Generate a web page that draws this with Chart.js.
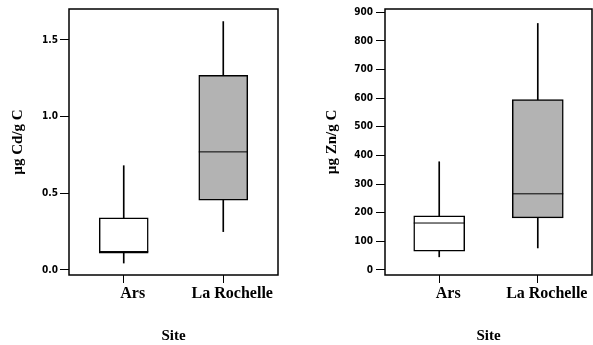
<!DOCTYPE html>
<html>
<head>
<meta charset="utf-8">
<script src="https://cdn.jsdelivr.net/npm/chart.js@4.4.0/dist/chart.umd.min.js"></script>
<style>
	html, body { margin: 0; padding: 0; background: #fff; }
	#wrap { position: relative; width: 593px; height: 345px; overflow: hidden; }
	canvas { position: absolute; top: 0; }
	#cd-chart { left: 0; }
	#zn-chart { left: 300px; }
</style>
</head>
<body>
<div id="wrap">
	<canvas id="cd-chart" width="300" height="345"></canvas>
	<canvas id="zn-chart" width="293" height="345"></canvas>
</div>
<script>
const sites = ["Ars", "La Rochelle"];

// Cd, µg/g C
const cdLow = [0.045, 0.25];
const cdQ1 = [0.11, 0.455];
const cdMedian = [0.12, 0.77];
const cdQ3 = [0.34, 1.27];
const cdHigh = [0.68, 1.62];
const cdTicks = [0, 0.5, 1.0, 1.5];

// Zn, µg/g C
const znLow = [46, 77];
const znQ1 = [66, 182];
const znMedian = [164, 266];
const znQ3 = [189, 595];
const znHigh = [378, 861];
const znTicks = [0, 100, 200, 300, 400, 500, 600, 700, 800, 900];

const boxColors = ["#ffffff", "#b3b3b3"];

const serif = "'Liberation Serif', 'Times New Roman', serif";
const narrow = "'Liberation Sans Narrow', 'DejaVu Sans Condensed', 'Liberation Sans', sans-serif";

// medians + frame round the plot area
const boxExtras = {
	id: "boxExtras",
	afterDatasetsDraw(chart) {
		const ctx = chart.ctx;
		const y = chart.scales.y;
		chart.data.datasets.forEach((ds, di) => {
			if (!ds.medians) return;
			const meta = chart.getDatasetMeta(di);
			ctx.save();
			ctx.strokeStyle = "#000";
			ctx.lineWidth = 1;
			meta.data.forEach((el, i) => {
				const py = y.getPixelForValue(ds.medians[i]);
				ctx.beginPath();
				ctx.moveTo(el.x - el.width / 2, py);
				ctx.lineTo(el.x + el.width / 2, py);
				ctx.stroke();
			});
			ctx.restore();
		});
	},
	afterDraw(chart) {
		const { left, top, right, bottom } = chart.chartArea;
		const ctx = chart.ctx;
		ctx.save();
		ctx.strokeStyle = "#000";
		ctx.lineWidth = 1.5;
		ctx.strokeRect(left, top, right - left, bottom - top);
		ctx.restore();
	},
};

function makeBoxChart(id, low, q1, median, q3, high, ticks, cfg) {
	return new Chart(document.getElementById(id), {
		type: "bar",
		data: {
			datasets: [
				{
					data: sites.map((s, i) => ({ x: i, y: [q1[i], q3[i]] })),
					medians: median,
					backgroundColor: boxColors,
					borderColor: "#000",
					borderWidth: 1.5,
					borderSkipped: false,
					barThickness: cfg.boxWidth,
					grouped: false,
					order: 1,
				},
				{
					data: sites.map((s, i) => ({ x: i, y: [low[i], high[i]] })),
					backgroundColor: "#000",
					borderWidth: 0,
					barThickness: 1,
					grouped: false,
					order: 2,
				},
			],
		},
		options: {
			responsive: false,
			animation: false,
			devicePixelRatio: 1,
			layout: { padding: { top: 9, right: cfg.padRight, left: 0, bottom: 0 } },
			plugins: { legend: { display: false }, tooltip: { enabled: false } },
			scales: {
				x: {
					type: "linear",
					min: -0.55,
					max: 1.55,
					offset: false,
					afterBuildTicks: (s) => { s.ticks = sites.map((_, i) => ({ value: i })); },
					afterFit: (s) => { s.height = 70; },
					grid: { drawOnChartArea: false, drawTicks: true, tickLength: 8, color: "#000", lineWidth: 1, offset: false },
					border: { display: false },
					ticks: {
						callback: (v) => sites[v],
						color: "#000",
						font: { family: serif, size: 16, weight: "bold" },
						padding: 1,
						labelOffset: 9,
						maxRotation: 0,
						autoSkip: false,
					},
					title: {
						display: true,
						text: "Site",
						color: "#000",
						font: { family: serif, size: 15, weight: "bold" },
						padding: { top: 1, bottom: 0 },
					},
				},
				y: {
					min: cfg.min,
					max: cfg.max,
					afterBuildTicks: (s) => { s.ticks = ticks.map((v) => ({ value: v })); },
					afterFit: (s) => { s.width = cfg.axisWidth; },
					grid: { drawOnChartArea: false, drawTicks: true, tickLength: 9, color: "#000", lineWidth: 1 },
					border: { display: false },
					ticks: {
						callback: cfg.format,
						color: "#000",
						font: { family: narrow, size: 10, weight: "bold" },
						padding: cfg.tickPad,
					},
					title: {
						display: true,
						text: cfg.title,
						color: "#000",
						font: { family: serif, size: 15, weight: "bold" },
						padding: { top: cfg.titlePad, bottom: 0 },
					},
				},
			},
		},
		plugins: [boxExtras],
	});
}

const cdChart = makeBoxChart("cd-chart", cdLow, cdQ1, cdMedian, cdQ3, cdHigh, cdTicks, {
	min: -0.033,
	max: 1.702,
	title: "µg Cd/g C",
	format: (v) => v.toFixed(1),
	axisWidth: 69,
	titlePad: 9,
	tickPad: 2,
	padRight: 22,
	boxWidth: 49,
});

const znChart = makeBoxChart("zn-chart", znLow, znQ1, znMedian, znQ3, znHigh, znTicks, {
	min: -17.5,
	max: 911.5,
	title: "µg Zn/g C",
	format: (v) => String(v),
	axisWidth: 85,
	titlePad: 23,
	tickPad: 3,
	padRight: 1,
	boxWidth: 51,
});
</script>
</body>
</html>
